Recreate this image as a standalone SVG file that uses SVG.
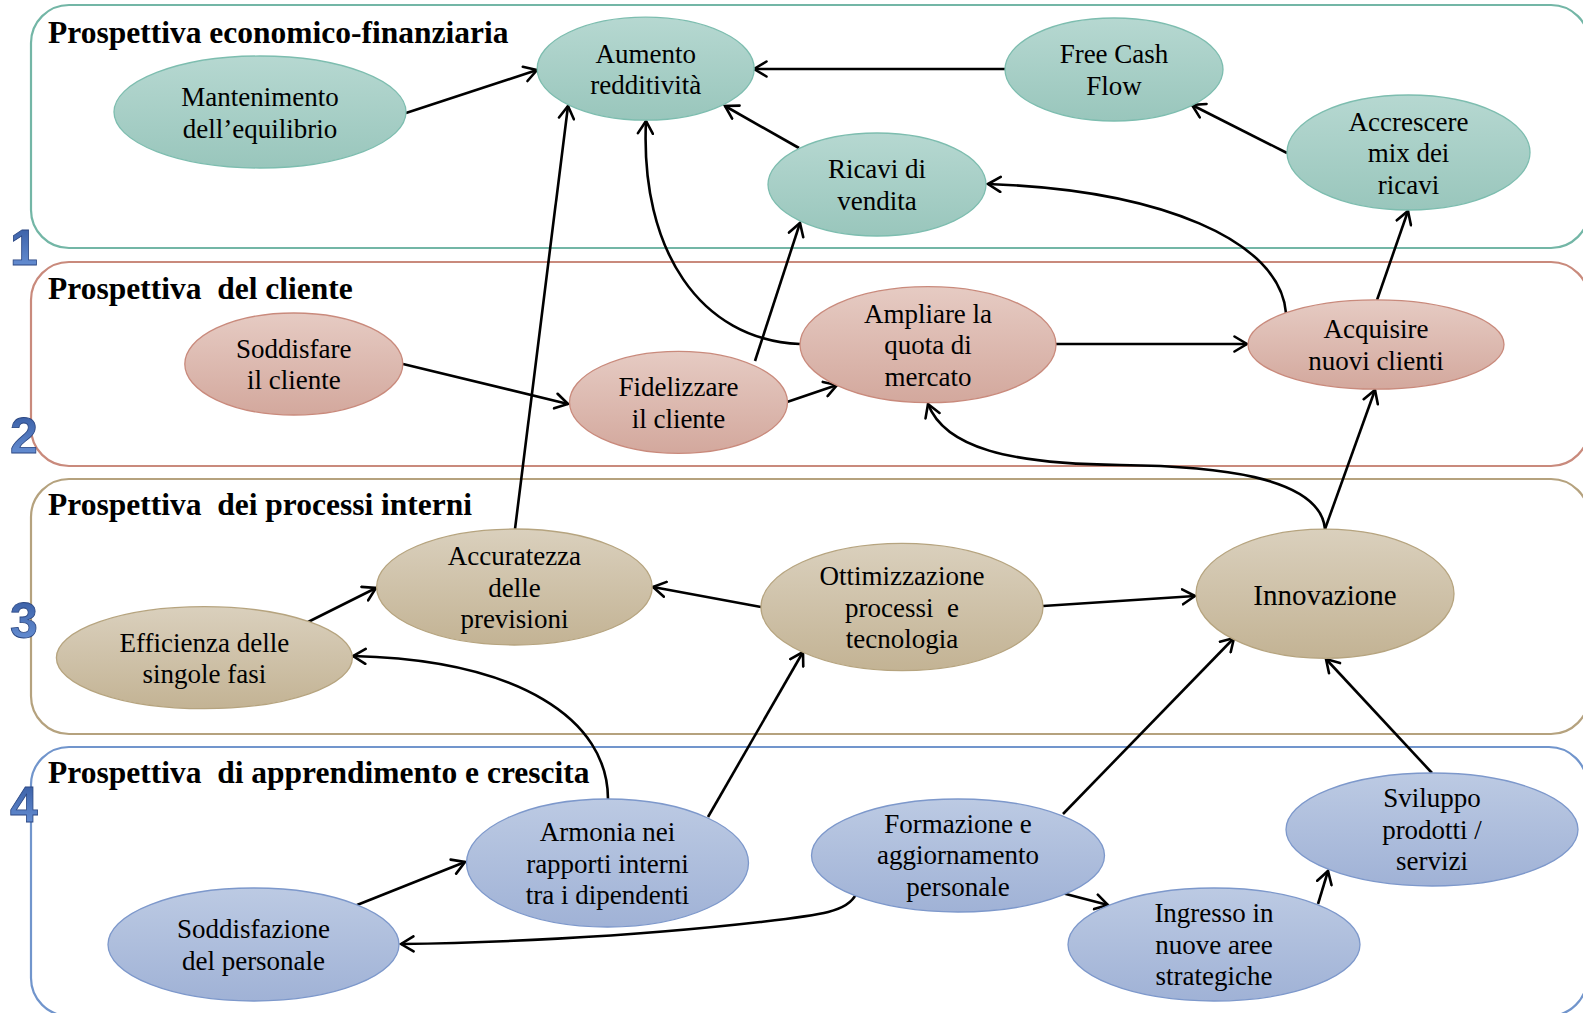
<svg xmlns="http://www.w3.org/2000/svg" width="1583" height="1013" viewBox="0 0 1583 1013">
<defs>
<linearGradient id="gTeal" x1="0" y1="0" x2="0" y2="1"><stop offset="0" stop-color="#b6d8d1"/><stop offset="1" stop-color="#99c6bc"/></linearGradient>
<linearGradient id="gPink" x1="0" y1="0" x2="0" y2="1"><stop offset="0" stop-color="#e6cbc3"/><stop offset="1" stop-color="#d3a89d"/></linearGradient>
<linearGradient id="gTan" x1="0" y1="0" x2="0" y2="1"><stop offset="0" stop-color="#dad0bd"/><stop offset="1" stop-color="#c3b394"/></linearGradient>
<linearGradient id="gBlue" x1="0" y1="0" x2="0" y2="1"><stop offset="0" stop-color="#bccae3"/><stop offset="1" stop-color="#a0b2d6"/></linearGradient>
<linearGradient id="gNum" x1="0" y1="0" x2="0" y2="1"><stop offset="0" stop-color="#34589f"/><stop offset="1" stop-color="#6e98dc"/></linearGradient>
<marker id="arr" viewBox="0 0 16 18" refX="14" refY="9" markerWidth="16" markerHeight="18" markerUnits="userSpaceOnUse" orient="auto">
<path d="M1.5,1.5 L14,9 L1.5,16.5" fill="none" stroke="#000" stroke-width="2.6" stroke-linecap="round" stroke-linejoin="miter"/>
</marker>
<style>
.panel{fill:none;stroke-width:2.2}
.h{font-family:"Liberation Serif","Times New Roman",serif;font-weight:bold;font-size:31.5px;fill:#000;white-space:pre}
.num{font-family:"Liberation Sans",Arial,sans-serif;font-weight:bold;font-size:50px;fill:url(#gNum);stroke:#2b4782;stroke-width:0.8;text-anchor:middle}
.t{font-family:"Liberation Serif","Times New Roman",serif;font-size:27px;fill:#000;text-anchor:middle;white-space:pre}
.teal{fill:url(#gTeal);stroke:#7dbdaf;stroke-width:1.3}
.pink{fill:url(#gPink);stroke:#c98a7c;stroke-width:1.3}
.tan{fill:url(#gTan);stroke:#b6a47f;stroke-width:1.3}
.blue{fill:url(#gBlue);stroke:#7d98cb;stroke-width:1.3}
.c{fill:none;stroke:#000;stroke-width:2.6;marker-end:url(#arr)}
</style>
</defs>
<rect width="1583" height="1013" fill="#fff"/>

<g id="panels">
<rect class="panel" x="31" y="5" width="1558" height="243" rx="38" stroke="#73b6a6"/>
<rect class="panel" x="31" y="262" width="1558" height="204" rx="38" stroke="#c98a7c"/>
<rect class="panel" x="31" y="479" width="1558" height="255" rx="38" stroke="#b5a27e"/>
<rect class="panel" x="31" y="747" width="1556" height="269" rx="38" stroke="#7195cc"/>
<text class="h" x="48" y="43">Prospettiva economico-finanziaria</text>
<text class="h" x="48" y="299">Prospettiva  del cliente</text>
<text class="h" x="48" y="515">Prospettiva  dei processi interni</text>
<text class="h" x="48" y="783">Prospettiva  di apprendimento e crescita</text>
<text class="num" x="24" y="265">1</text>
<text class="num" x="24" y="453">2</text>
<text class="num" x="24" y="638">3</text>
<text class="num" x="24" y="822">4</text>
</g>

<g id="connectors">
<path class="c" d="M406,113 L537,70"/>
<path class="c" d="M1005,69 L754,69"/>
<path class="c" d="M799,148 L725,106"/>
<path class="c" d="M1287,153 L1192,105"/>
<path class="c" d="M515,529 L568,106"/>
<path class="c" d="M755,361 L800,223"/>
<path class="c" d="M800,344 C700,340 640,250 646,121"/>
<path class="c" d="M403,364 L568,404"/>
<path class="c" d="M787,402 L837,385"/>
<path class="c" d="M1056,344 L1247,344"/>
<path class="c" d="M1286,313 C1280,240 1160,190 988,184"/>
<path class="c" d="M1377,300 L1408,211"/>
<path class="c" d="M1325,529 L1375,390"/>
<path class="c" d="M1325,529 C1320,475 1210,466 1120,465 C1010,464 945,448 928,404"/>
<path class="c" d="M761,607 L653,587"/>
<path class="c" d="M1043,606 L1195,596"/>
<path class="c" d="M308,622 L376,588"/>
<path class="c" d="M608,799 C608,720 520,660 353,656"/>
<path class="c" d="M708,817 L803,652"/>
<path class="c" d="M357,905 L465,862"/>
<path class="c" d="M856,894 C848,912 820,915 760,922 C620,938 480,943 401,944"/>
<path class="c" d="M1063,814 L1234,638"/>
<path class="c" d="M1062,893 L1108,905"/>
<path class="c" d="M1318,904 L1328,871"/>
<path class="c" d="M1432,773 L1326,659"/>
</g>

<g id="n-mantenimento"><ellipse class="teal" cx="260" cy="112" rx="146" ry="56"/>
<text class="t"><tspan x="260" y="106">Mantenimento</tspan><tspan x="260" y="137.5">dell’equilibrio</tspan></text></g>
<g id="n-aumento"><ellipse class="teal" cx="645.7" cy="68.7" rx="108.5" ry="51.5"/>
<text class="t"><tspan x="645.7" y="62.5">Aumento</tspan><tspan x="645.7" y="94">redditività</tspan></text></g>
<g id="n-fcf"><ellipse class="teal" cx="1114" cy="69.5" rx="109" ry="51.5"/>
<text class="t"><tspan x="1114" y="63.3">Free Cash</tspan><tspan x="1114" y="94.8">Flow</tspan></text></g>
<g id="n-ricavi"><ellipse class="teal" cx="877" cy="184.5" rx="109" ry="51.5"/>
<text class="t"><tspan x="877" y="178.3">Ricavi di</tspan><tspan x="877" y="209.8">vendita</tspan></text></g>
<g id="n-accrescere"><ellipse class="teal" cx="1408.5" cy="152.5" rx="121.5" ry="57.5"/>
<text class="t"><tspan x="1408.5" y="130.5">Accrescere</tspan><tspan x="1408.5" y="162">mix dei</tspan><tspan x="1408.5" y="193.5">ricavi</tspan></text></g>

<g id="n-soddisfare"><ellipse class="pink" cx="293.8" cy="364" rx="109" ry="51"/>
<text class="t"><tspan x="293.8" y="357.8">Soddisfare</tspan><tspan x="293.8" y="389.3">il cliente</tspan></text></g>
<g id="n-fidelizzare"><ellipse class="pink" cx="678.5" cy="402.3" rx="109" ry="51"/>
<text class="t"><tspan x="678.5" y="396">Fidelizzare</tspan><tspan x="678.5" y="427.5">il cliente</tspan></text></g>
<g id="n-ampliare"><ellipse class="pink" cx="928" cy="344.7" rx="128" ry="58"/>
<text class="t"><tspan x="928" y="322.7">Ampliare la</tspan><tspan x="928" y="354.2">quota di</tspan><tspan x="928" y="385.7">mercato</tspan></text></g>
<g id="n-acquisire"><ellipse class="pink" cx="1376" cy="344.5" rx="128" ry="44.7"/>
<text class="t"><tspan x="1376" y="338">Acquisire</tspan><tspan x="1376" y="369.5">nuovi clienti</tspan></text></g>

<g id="n-accuratezza"><ellipse class="tan" cx="514.4" cy="587" rx="137.8" ry="58"/>
<text class="t"><tspan x="514.4" y="565">Accuratezza</tspan><tspan x="514.4" y="596.5">delle</tspan><tspan x="514.4" y="628">previsioni</tspan></text></g>
<g id="n-efficienza"><ellipse class="tan" cx="204.4" cy="657.7" rx="148" ry="51"/>
<text class="t"><tspan x="204.4" y="651.5">Efficienza delle</tspan><tspan x="204.4" y="683">singole fasi</tspan></text></g>
<g id="n-ottimizzazione"><ellipse class="tan" cx="902" cy="607" rx="141" ry="63.6"/>
<text class="t"><tspan x="902" y="585">Ottimizzazione</tspan><tspan x="902" y="616.5">processi  e</tspan><tspan x="902" y="648">tecnologia</tspan></text></g>
<g id="n-innovazione"><ellipse class="tan" cx="1325" cy="593.7" rx="129" ry="64.6"/>
<text class="t" x="1325" y="605" style="font-size:29px">Innovazione</text></g>

<g id="n-armonia"><ellipse class="blue" cx="607.5" cy="863" rx="141" ry="64"/>
<text class="t"><tspan x="607.5" y="841">Armonia nei</tspan><tspan x="607.5" y="872.5">rapporti interni</tspan><tspan x="607.5" y="904">tra i dipendenti</tspan></text></g>
<g id="n-soddisfazione"><ellipse class="blue" cx="253.5" cy="944.5" rx="145.5" ry="56.5"/>
<text class="t"><tspan x="253.5" y="938.3">Soddisfazione</tspan><tspan x="253.5" y="969.8">del personale</tspan></text></g>
<g id="n-formazione"><ellipse class="blue" cx="958" cy="855.5" rx="146.5" ry="56.5"/>
<text class="t"><tspan x="958" y="832.5">Formazione e</tspan><tspan x="958" y="864">aggiornamento</tspan><tspan x="958" y="895.5">personale</tspan></text></g>
<g id="n-ingresso"><ellipse class="blue" cx="1214" cy="944.5" rx="146" ry="56.5"/>
<text class="t"><tspan x="1214" y="922">Ingresso in</tspan><tspan x="1214" y="953.5">nuove aree</tspan><tspan x="1214" y="985">strategiche</tspan></text></g>
<g id="n-sviluppo"><ellipse class="blue" cx="1432" cy="829.5" rx="146" ry="56.5"/>
<text class="t"><tspan x="1432" y="807">Sviluppo</tspan><tspan x="1432" y="838.5">prodotti /</tspan><tspan x="1432" y="870">servizi</tspan></text></g>
</svg>
